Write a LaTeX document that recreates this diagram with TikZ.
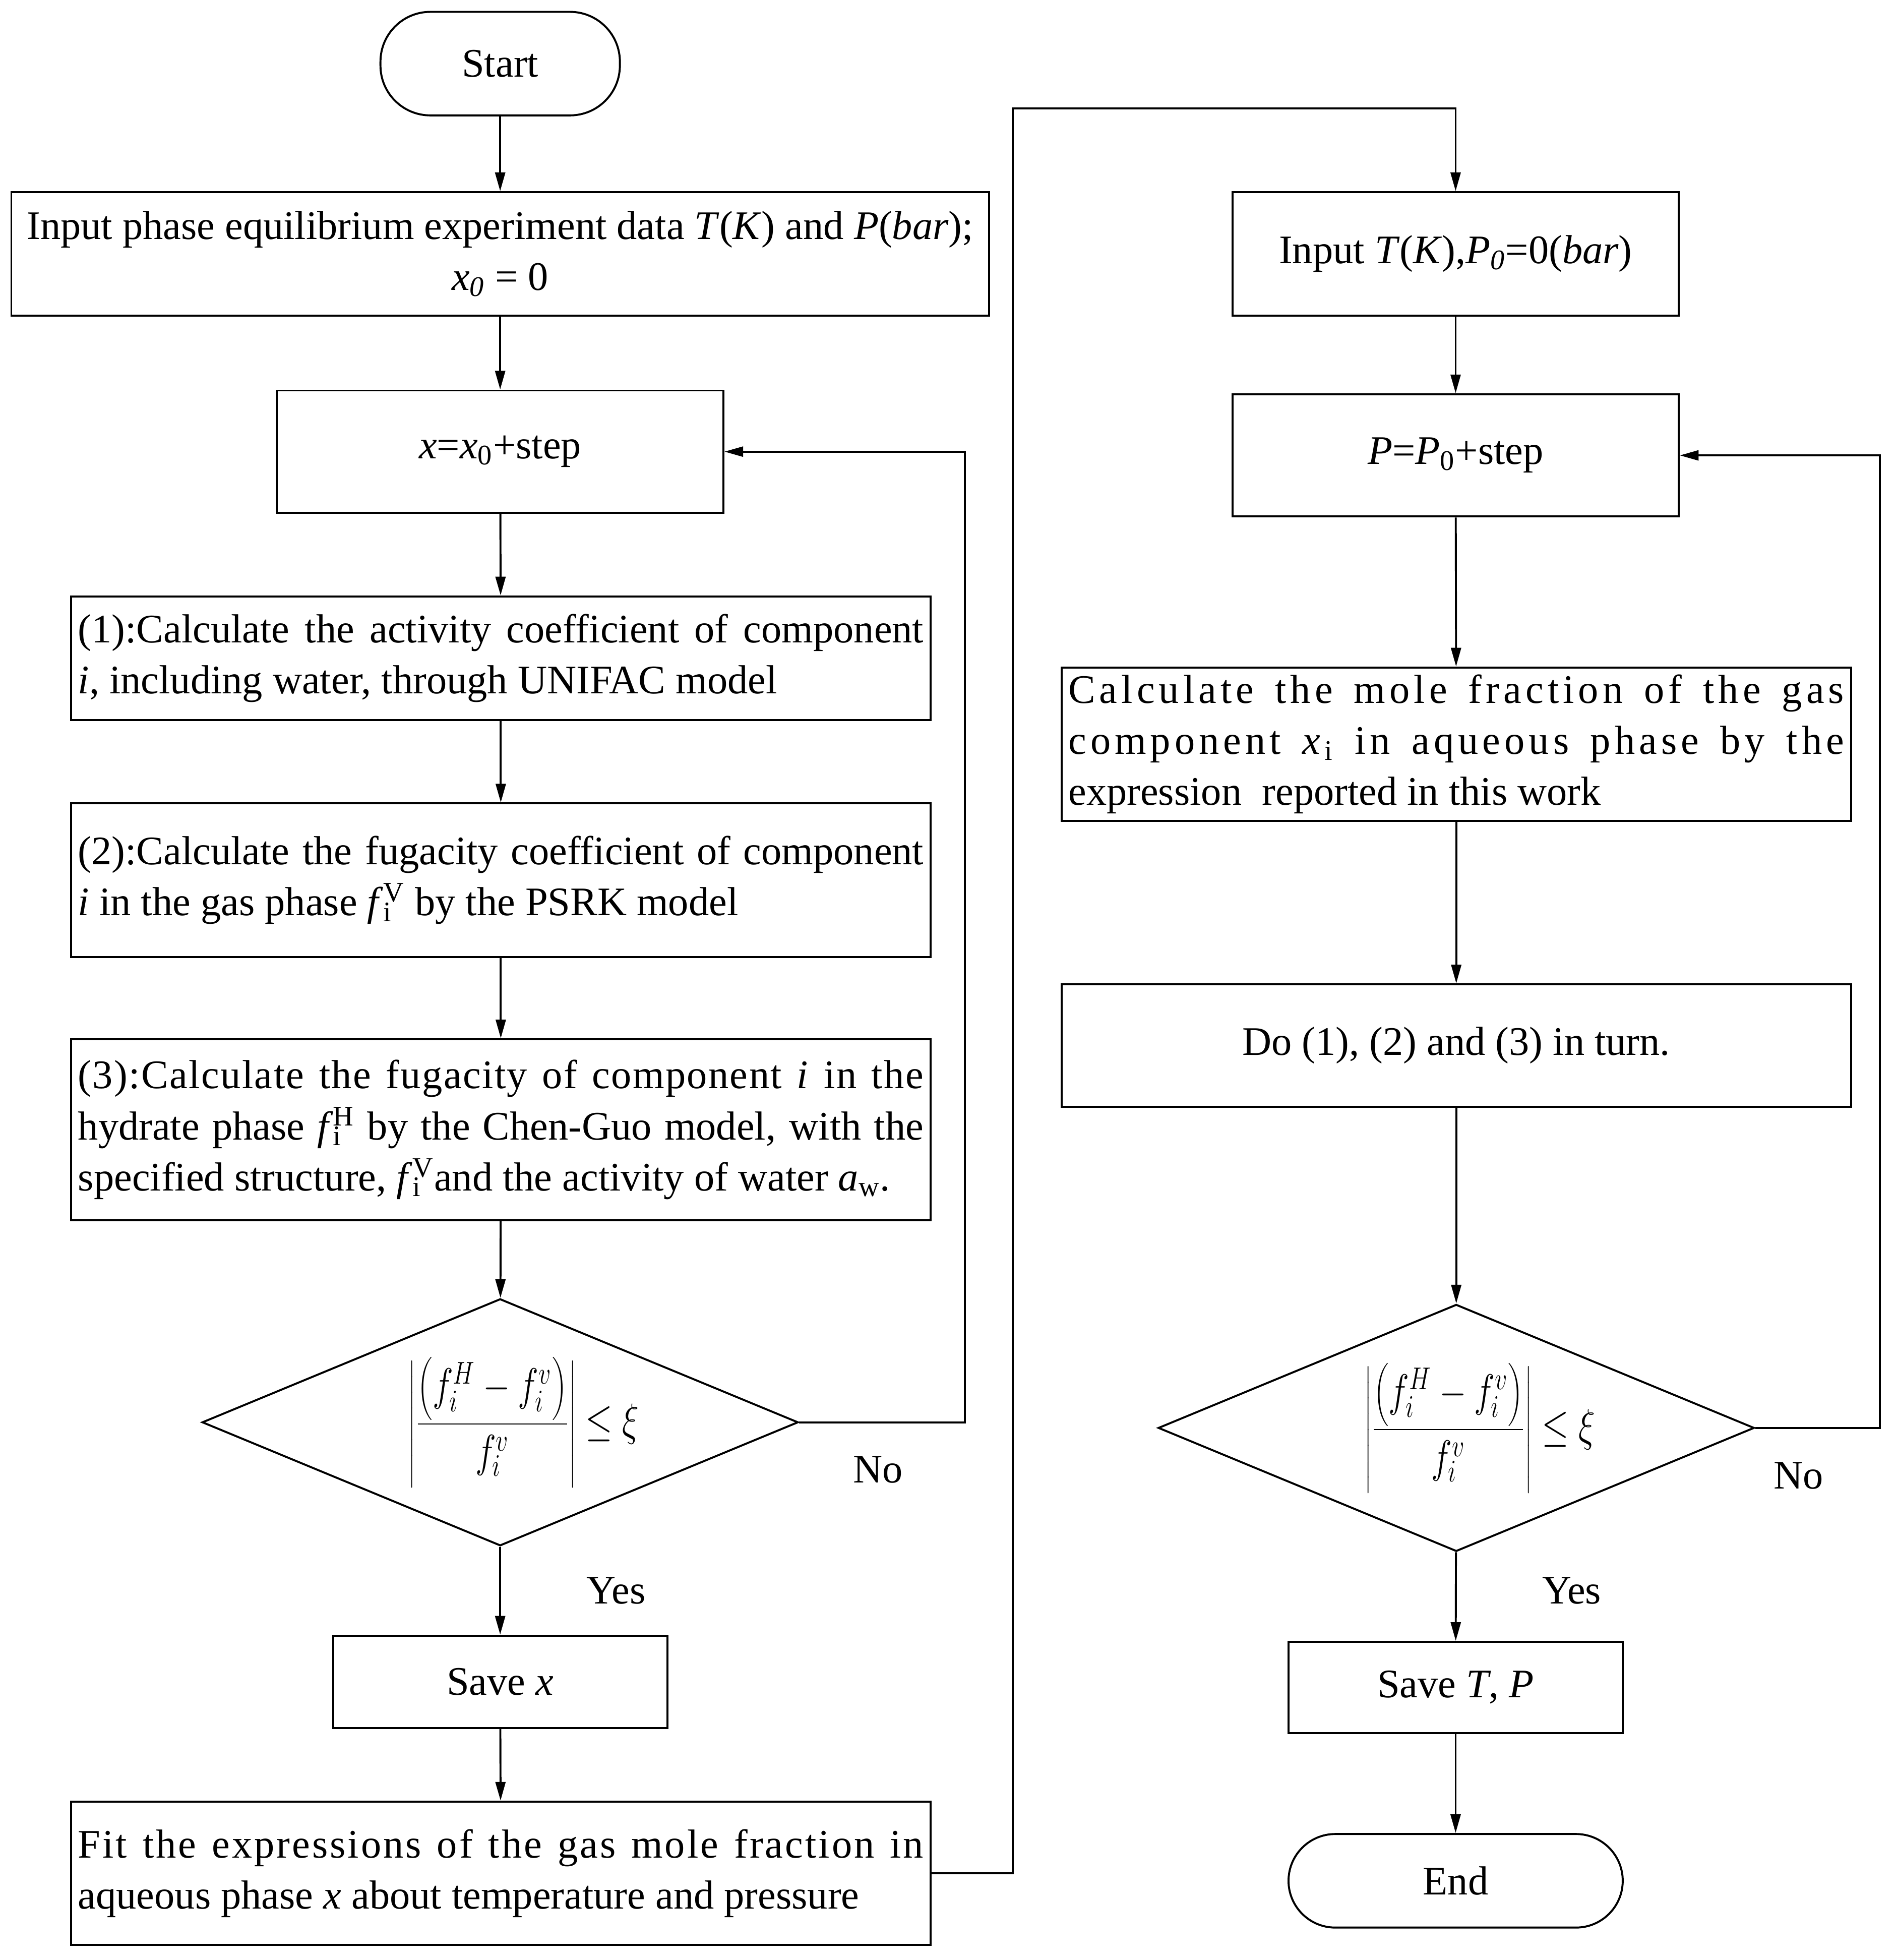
\documentclass[tikz,border=0pt]{standalone}
\usepackage{fontspec}
\setmainfont{Liberation Serif}
\newfontfamily\widea{Liberation Serif}[LetterSpace=10]
\newfontfamily\wideb{Liberation Serif}[LetterSpace=5]
\newfontfamily\widec{Liberation Serif}[LetterSpace=3]
\usetikzlibrary{arrows.meta,shapes.geometric,positioning}

% f with subscript i and a superscript stacked over it
\newcommand{\fcomp}[1]{\textit{f}\rlap{\textsubscript{i}}\textsuperscript{#1}}
% the convergence test of both loops
\newcommand{\conv}{\hspace*{0.76cm}\scalebox{0.92}[1.2]{$\left|\displaystyle\frac{\left(f_i^{H}-f_i^{v}\right)}{f_i^{v}}\right|\le\xi$}}

\tikzset{
    proc/.style={draw, line width=0.9pt, inner sep=0pt, align=center},
    term/.style={proc, rounded corners=0.8cm},
    para/.style={proc, inner xsep=0.11cm, align=justify},
    cond/.style={draw, line width=0.9pt, diamond, aspect=2.4, inner sep=0pt,
        minimum width=9.56cm, minimum height=3.96cm},
    conn/.style={line width=0.9pt, -{Triangle[length=0.3cm,width=0.16cm]}},
}

\begin{document}
\begin{tikzpicture}[x=0.02cm, y=-0.02cm,
    every node/.style={font=\fontsize{18.5}{23.3}\selectfont}]
    \useasboundingbox (0,0) rectangle (1520,1571);

    % left column: fitting x
    \node[term, minimum width=3.84cm, minimum height=1.66cm] (start) at (401,51) {Start};
    \node[proc, minimum width=15.68cm, minimum height=1.98cm] (inp) at (401,203.5)
        {Input phase equilibrium experiment data \textit{T}(\textit{K}) and \textit{P}(\textit{bar});\\
         \textit{x}\textsubscript{\textit{0}} = 0};
    \node[proc, minimum width=7.16cm, minimum height=1.96cm] (xstep) at (401,362)
        {\textit{x}=\textit{x}\textsubscript{0}+step};
    \node[para, text width=13.56cm, minimum height=1.98cm] (act) at (401.5,527.5)
        {(1):Calculate the activity coefficient of component\linebreak
         \textit{i}, including water, through UNIFAC model};
    \node[para, text width=13.56cm, minimum height=2.46cm] (fug) at (401.5,705.5)
        {(2):Calculate the fugacity coefficient of component\linebreak
         \textit{i} in the gas phase \fcomp{V} by the PSRK model};
    \node[para, text width=13.56cm, minimum height=2.9cm] (hyd) at (401.5,905.5)
        {{\widec (3):Calculate the fugacity of component \textit{i} in the}\linebreak
         hydrate phase \fcomp{H} by the Chen-Guo model, with the\linebreak
         specified structure, \fcomp{V}and the activity of water \textit{a}\textsubscript{w}.};
    \node[cond] (dec1) at (401,1140) {\conv};
    \node[proc, minimum width=5.36cm, minimum height=1.48cm] (savex) at (401,1348) {Save \textit{x}};
    \node[para, text width=13.56cm, minimum height=2.3cm] (fit) at (401.5,1501.5)
        {{\wideb Fit the expressions of the gas mole fraction in}\linebreak
         aqueous phase \textit{x} about temperature and pressure};
    \node (no1) at (704,1178) {No};
    \node (yes1) at (494,1275) {Yes};

    % right column: equilibrium pressure
    \node[proc, minimum width=7.16cm, minimum height=1.98cm] (inp2) at (1167,203.5)
        {Input \textit{T}(\textit{K}),\textit{P}\textsubscript{\textit{0}}=0(\textit{bar})};
    \node[proc, minimum width=7.16cm, minimum height=1.96cm] (pstep) at (1167,365)
        {\textit{P}=\textit{P}\textsubscript{0}+step};
    \node[para, text width=12.44cm, minimum height=2.46cm] (calc) at (1167.5,596.5)
        {{\widea Calculate the mole fraction of the gas\linebreak
         component \textit{x}\textsubscript{i} in aqueous phase by the}\linebreak
         expression\ \ reported in this work};
    \node[proc, minimum width=12.66cm, minimum height=1.96cm] (doall) at (1167.5,838)
        {Do (1), (2) and (3) in turn.};
    \node[cond] (dec2) at (1167.5,1144.5) {\conv};
    \node[proc, minimum width=5.36cm, minimum height=1.46cm] (savetp) at (1167,1352.5)
        {Save \textit{T}, \textit{P}};
    \node[term, minimum width=5.36cm, minimum height=1.5cm, rounded corners=0.75cm] (endn) at (1167,1507.5) {End};
    \node (no2) at (1442,1183) {No};
    \node (yes2) at (1260,1275) {Yes};

    % connectors
    \draw[conn] (start) -- (inp);
    \draw[conn] (inp) -- (xstep);
    \draw[conn] (xstep) -- (act);
    \draw[conn] (act) -- (fug);
    \draw[conn] (fug) -- (hyd);
    \draw[conn] (hyd) -- (dec1);
    \draw[conn] (dec1) -- (savex);
    \draw[conn] (savex) -- (fit);
    \draw[conn] (dec1.east) -- ++(133,0) |- (xstep.east);

    \coordinate (over) at (812,87);
    \draw[conn] (fit.east) -| (over) -| (inp2.north);

    \draw[conn] (inp2) -- (pstep);
    \draw[conn] (pstep) -- (calc);
    \draw[conn] (calc) -- (doall);
    \draw[conn] (doall) -- (dec2);
    \draw[conn] (dec2) -- (savetp);
    \draw[conn] (savetp) -- (endn);
    \draw[conn] (dec2.east) -- ++(100,0) |- (pstep.east);
\end{tikzpicture}
\end{document}
